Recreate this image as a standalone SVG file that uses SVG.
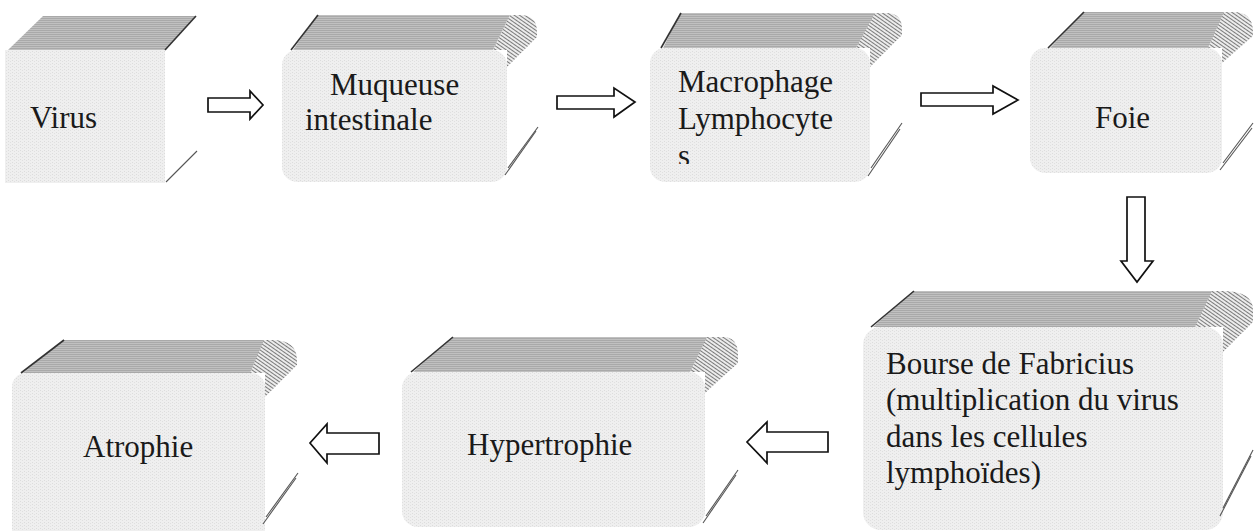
<svg xmlns="http://www.w3.org/2000/svg" width="1254" height="531" viewBox="0 0 1254 531">
<style>
  .front{fill:url(#frontTex);}
  .top{fill:url(#topTex);}
  .roll{fill:url(#hatch);}
  .edge{fill:none;stroke:#333;stroke-width:1.6;}
  .edge2{fill:none;stroke:#555;stroke-width:1.1;}
  .lbl{font-family:"Liberation Serif","Times New Roman",serif;font-size:31px;fill:#1a1a1a;}
  .arrow{fill:#fff;stroke:#111;stroke-width:1.7;stroke-linejoin:miter;}
</style>
<defs>
  <pattern id="frontTex" width="4" height="3" patternUnits="userSpaceOnUse">
    <rect width="4" height="3" fill="#efefef"/>
    <rect x="0" y="0" width="1" height="1" fill="#dcdcdc"/>
    <rect x="2" y="1" width="1" height="1" fill="#e0e0e0"/>
  </pattern>
  <pattern id="topTex" width="4" height="2" patternUnits="userSpaceOnUse">
    <rect width="4" height="2" fill="#c0c0c0"/>
    <rect x="0" y="0" width="4" height="1" fill="#a9a9a9"/>
  </pattern>
  <pattern id="hatch" width="3" height="3" patternUnits="userSpaceOnUse" patternTransform="rotate(-55)">
    <rect width="3" height="3" fill="#ececec"/>
    <rect x="0" y="0" width="1" height="3" fill="#7a7a7a"/>
  </pattern>
  <clipPath id="clipMac">
    <rect x="640" y="40" width="240" height="124"/>
  </clipPath>
</defs>
<rect width="1254" height="531" fill="#fff"/>

<g id="node-virus">
  <polygon class="top" points="8,50 43,16 196,16 165,50"/>
  <rect class="front" x="5" y="50" width="160" height="133"/>
  <line class="edge" x1="165" y1="50" x2="196" y2="16"/>
  <line class="edge2" x1="166" y1="182" x2="197" y2="151"/>
  <text class="lbl" x="30" y="128">Virus</text>
</g>

<g id="node-muqueuse">
  <path class="roll" d="M493,50 L510,15 L520,15 Q537,15 537,32 L537,37 L507,67 L507,50 Z"/>
  <polygon class="top" points="293,50 317,15 510,15 493,50"/>
  <rect class="front" x="282" y="50" width="225" height="132" rx="15"/>
  <line class="edge" x1="291" y1="50" x2="318" y2="15"/>
  <line class="edge2" x1="505" y1="175" x2="536" y2="131"/>
  <line class="edge2" x1="508" y1="168" x2="538" y2="127"/>
  <text class="lbl" x="330" y="95">Muqueuse</text>
  <text class="lbl" x="305" y="130">intestinale</text>
</g>

<g id="node-macrophage">
  <path class="roll" d="M856,48 L873,13 L886,13 Q902,13 902,29 L902,35 L870,67 L870,48 Z"/>
  <polygon class="top" points="663,48 680,13 875,13 856,48"/>
  <rect class="front" x="650" y="48" width="220" height="134" rx="15"/>
  <line class="edge" x1="661" y1="48" x2="681" y2="13"/>
  <line class="edge2" x1="868" y1="176" x2="900" y2="129"/>
  <line class="edge2" x1="871" y1="168" x2="902" y2="123"/>
  <g clip-path="url(#clipMac)">
    <text class="lbl" x="678" y="92">Macrophage</text>
    <text class="lbl" x="678" y="129">Lymphocyte</text>
    <text class="lbl" x="678" y="166">s</text>
  </g>
</g>

<g id="node-foie">
  <path class="roll" d="M1208,48 L1222,12 L1233,12 Q1253,12 1253,32 L1253,36 L1222,63 L1222,48 Z"/>
  <polygon class="top" points="1050,48 1083,12 1224,12 1208,48"/>
  <rect class="front" x="1030" y="48" width="192" height="125" rx="15"/>
  <line class="edge" x1="1048" y1="48" x2="1084" y2="12"/>
  <line class="edge2" x1="1220" y1="170" x2="1252" y2="128"/>
  <line class="edge2" x1="1223" y1="163" x2="1253" y2="123"/>
  <text class="lbl" x="1095" y="128">Foie</text>
</g>

<g id="node-bourse">
  <path class="roll" d="M1195,327 L1210,291 L1223,291 Q1253,291 1253,310 L1253,322 L1223,352 L1223,327 Z"/>
  <polygon class="top" points="873,327 913,291 1212,291 1195,327"/>
  <rect class="front" x="863" y="327" width="360" height="203" rx="18"/>
  <line class="edge" x1="871" y1="327" x2="914" y2="291"/>
  <line class="edge2" x1="1220" y1="516" x2="1251" y2="456"/>
  <line class="edge2" x1="1223" y1="508" x2="1253" y2="450"/>
  <text class="lbl" x="886" y="374">Bourse de Fabricius</text>
  <text class="lbl" x="886" y="410">(multiplication du virus</text>
  <text class="lbl" x="886" y="447">dans les cellules</text>
  <text class="lbl" x="886" y="483">lymphoïdes)</text>
</g>

<g id="node-hypertrophie">
  <path class="roll" d="M690,372 L705,337 L723,337 Q738,337 738,355 L738,363 L705,393 L705,372 Z"/>
  <polygon class="top" points="413,372 452,337 707,337 690,372"/>
  <rect class="front" x="402" y="372" width="303" height="155" rx="16"/>
  <line class="edge" x1="411" y1="372" x2="453" y2="337"/>
  <line class="edge2" x1="703" y1="523" x2="736" y2="475"/>
  <line class="edge2" x1="706" y1="516" x2="738" y2="470"/>
  <text class="lbl" x="467" y="455">Hypertrophie</text>
</g>

<g id="node-atrophie">
  <path class="roll" d="M250,373 L262,340 L272,340 Q297,340 297,360 L297,365 L265,397 L265,373 Z"/>
  <polygon class="top" points="23,373 63,340 264,340 250,373"/>
  <rect class="front" x="12" y="373" width="253" height="170" rx="14"/>
  <line class="edge" x1="21" y1="373" x2="64" y2="340"/>
  <line class="edge2" x1="263" y1="524" x2="296" y2="478"/>
  <line class="edge2" x1="266" y1="517" x2="298" y2="473"/>
  <text class="lbl" x="83" y="457">Atrophie</text>
</g>

<g id="connectors">
  <polygon class="arrow" points="208,98 250,98 250,91 263,105 250,119 250,112 208,112"/>
  <polygon class="arrow" points="557,96 614,96 614,88 635,102 614,117 614,109 557,109"/>
  <polygon class="arrow" points="921,93 993,93 993,86 1018,100 993,114 993,106 921,106"/>
  <polygon class="arrow" points="1127,197 1145,197 1145,261 1153,261 1137,282 1121,261 1127,261"/>
  <polygon class="arrow" points="828,432 767,432 767,422 747,442 767,463 767,452 828,452"/>
  <polygon class="arrow" points="379,433 327,433 327,424 310,443 327,463 327,454 379,454"/>
</g>
</svg>
